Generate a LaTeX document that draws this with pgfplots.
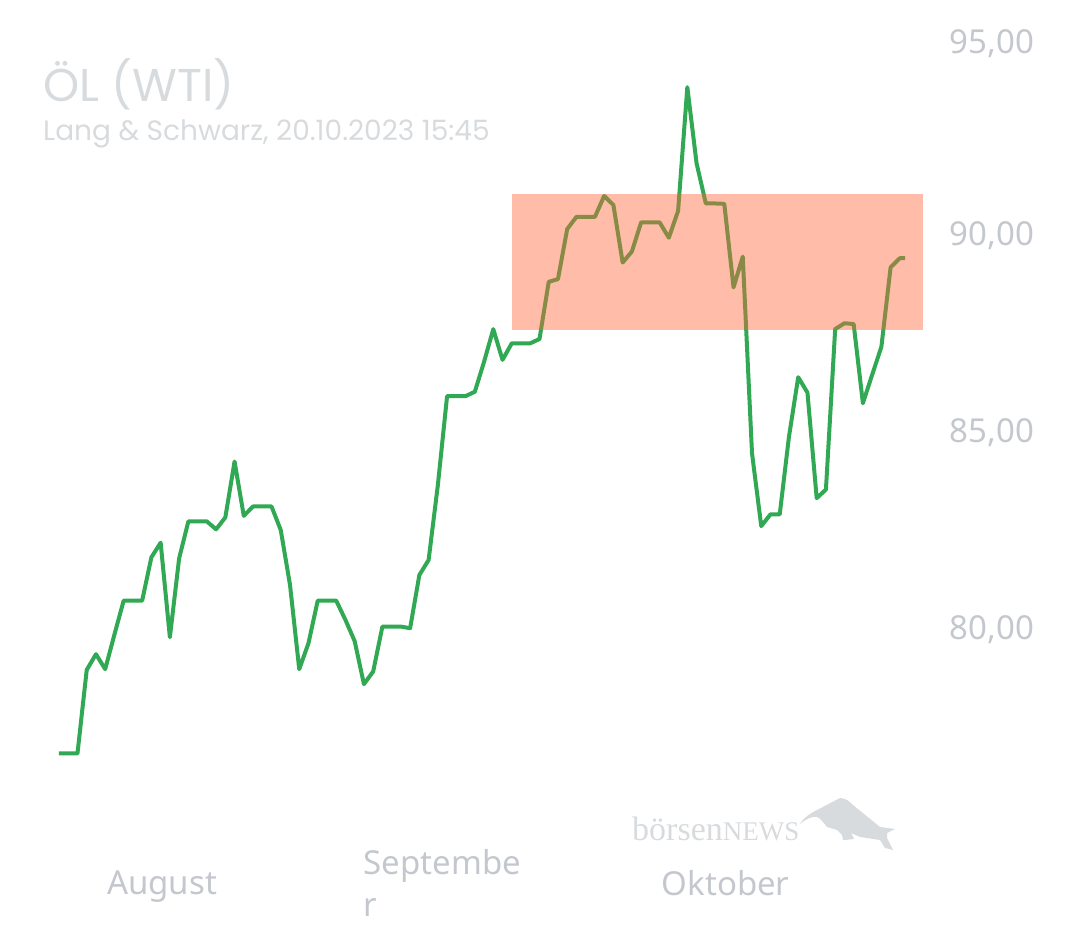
\documentclass[border=0pt]{standalone}
\usepackage{pgfplots}
\pgfplotsset{compat=1.18}
\usepackage{fontspec}
\setmainfont{Noto Sans}
\newfontfamily\ttlfont{Poppins}
\newfontfamily\logofont{Liberation Serif}
\definecolor{lab}{HTML}{C4C8CE}
\definecolor{ttl}{HTML}{D8DBDE}
\definecolor{grn}{HTML}{31A853}
\definecolor{zone}{HTML}{FF6435}
\begin{document}
\begin{tikzpicture}[x=1pt,y=1pt]
\useasboundingbox (0,-105) rectangle (1080,840);
\begin{axis}[
  anchor=south west,
  scale only axis,width=940pt,height=840pt,
  xmin=-6.385,xmax=95.346,ymin=74.594,ymax=95.914,
  axis line style={draw=none},
  major tick length=0pt,
  clip=false,
  xtick={11.15,41.5,72.15},
  xticklabels={August,{Septembe\\r},Oktober},
  xticklabel style={anchor=center,yshift=-43pt,text depth=0pt,align=left,font=\fontsize{33}{42}\selectfont,text=lab},
  ytick={80,85,90,95},
  yticklabels={{80,00},{85,00},{90,00},{\raisebox{-5pt}{95,00}}},
  ytick pos=right,
  yticklabel pos=right,
  yticklabel style={anchor=base west,xshift=6pt,yshift=-12pt,font=\fontsize{33}{40}\selectfont,text=lab},
]
\addplot[grn,line width=4pt,line join=round,forget plot] coordinates {
(0,76.79)(1,76.79)(2,76.79)(3,78.91)(4,79.31)(5,78.93)(6,79.81)(7,80.67)(8,80.67)(9,80.67)
(10,81.77)(11,82.14)(12,79.74)(13,81.74)(14,82.68)(15,82.68)(16,82.68)(17,82.48)(18,82.78)(19,84.20)
(20,82.82)(21,83.06)(22,83.06)(23,83.06)(24,82.46)(25,81.07)(26,78.93)(27,79.59)(28,80.67)(29,80.67)
(30,80.67)(31,80.18)(32,79.64)(33,78.55)(34,78.87)(35,80.01)(36,80.01)(37,80.01)(38,79.97)(39,81.32)
(40,81.70)(41,83.60)(42,85.86)(43,85.86)(44,85.86)(45,85.97)(46,86.73)(47,87.56)(48,86.78)(49,87.20)
(50,87.20)(51,87.20)(52,87.31)(53,88.76)(54,88.83)(55,90.10)(56,90.41)(57,90.41)(58,90.41)(59,90.94)
(60,90.71)(61,89.25)(62,89.53)(63,90.27)(64,90.27)(65,90.27)(66,89.88)(67,90.56)(68,93.70)(69,91.77)
(70,90.75)(71,90.75)(72,90.74)(73,88.62)(74,89.40)(75,84.41)(76,82.56)(77,82.86)(78,82.86)(79,84.83)
(80,86.34)(81,85.95)(82,83.27)(83,83.49)(84,87.56)(85,87.71)(86,87.69)(87,85.68)(88,86.40)(89,87.11)
(90,89.13)(91,89.36)(91.57,89.36)
};
\fill[zone,opacity=0.43] (axis cs:49,87.54) rectangle (axis cs:93.5,91);
\end{axis}
\node[anchor=west,text=ttl,inner sep=0pt,font=\ttlfont\fontsize{46}{50}\selectfont] at (43,756) {ÖL (WTI)};
\node[anchor=west,text=ttl,inner sep=0pt,font=\ttlfont\fontsize{28}{32}\selectfont] at (43,706) {Lang \& Schwarz, 20.10.2023 15:45};
\node[anchor=base west,text=ttl,inner sep=0pt,font=\logofont\fontsize{34}{38}\selectfont] at (632,-1) {börsen{\fontsize{27}{30}\selectfont NEWS}};
\fill[ttl] (800,16) .. controls (804,23) and (811,27) .. (817,30) -- (840,42) .. controls (846,42) and (850,38) .. (853,35) -- (880,13) -- (895,11) -- (887,7) -- (887,2) -- (893,-10) -- (885,-8) -- (880,0) -- (860,3) -- (851,7) -- (854,1) -- (846,0) -- (843,0) -- (842,5) -- (837,10) -- (827,13) .. controls (823,18) and (820,22) .. (817,23) .. controls (812,24) and (806,21) .. (800,16) -- cycle;
\end{tikzpicture}
\end{document}
